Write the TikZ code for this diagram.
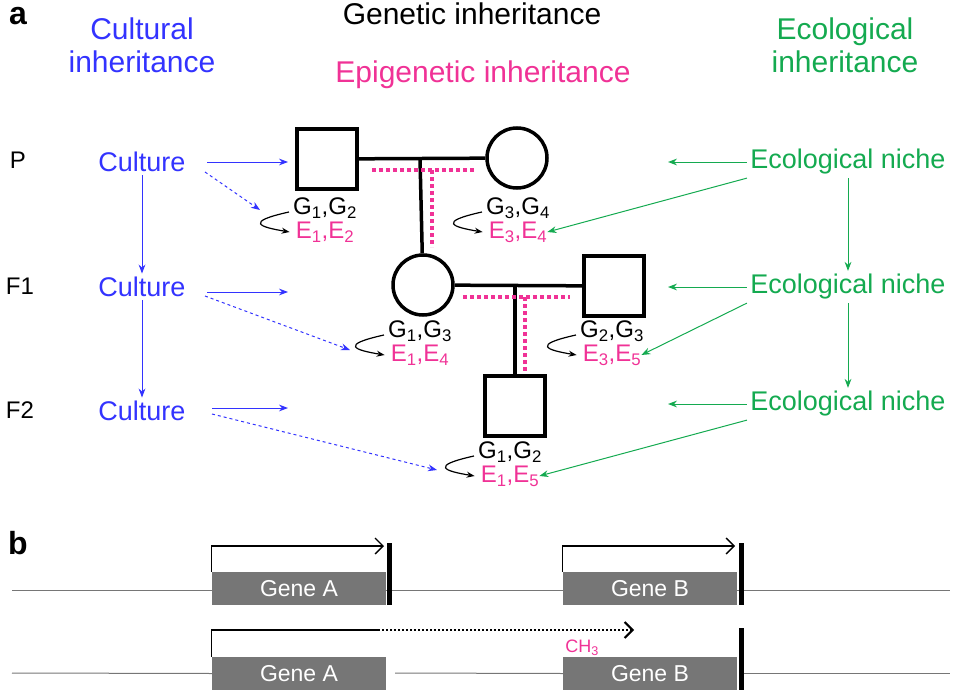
\documentclass[tikz,border=0pt]{standalone}
\usepackage{fontspec}
\setmainfont{Liberation Sans}
\usetikzlibrary{arrows.meta, positioning}
\definecolor{cultblue}{RGB}{51,51,255}
\definecolor{epipink}{RGB}{240,50,150}
\definecolor{ecogreen}{RGB}{20,170,80}
\definecolor{genegray}{RGB}{118,118,118}
\tikzset{
  big/.style={font=\fontsize{30}{33}\selectfont, align=center},
  lab/.style={font=\fontsize{27}{30}\selectfont},
  gen/.style={font=\fontsize{24}{26}\selectfont, inner sep=0pt},
  male/.style={draw, line width=3.5pt, minimum size=60pt, inner sep=0pt},
  female/.style={draw, circle, line width=3.5pt, minimum size=60pt, inner sep=0pt},
  mate/.style={line width=3.5pt},
  epi/.style={epipink, line width=4pt, dash pattern=on 4pt off 3pt},
  cult/.style={cultblue, line width=1pt, -{Stealth[length=9pt]}},
  eco/.style={ecogreen, line width=1pt, -{Stealth[length=9pt]}},
  self/.style={-{Stealth[length=8pt]}, line width=1.2pt},
  gene/.style={fill=genegray, text=white, minimum width=174pt, minimum height=33pt, inner sep=0pt, font=\fontsize{23}{25}\selectfont},
  stop/.style={line width=5pt},
  dna/.style={genegray, line width=1pt}
}
\newcommand{\gp}[2]{G\textsubscript{#1},G\textsubscript{#2}}
\newcommand{\ep}[2]{E\textsubscript{#1},E\textsubscript{#2}}
\begin{document}
\begin{tikzpicture}[x=1pt, y=-1pt]
\useasboundingbox (0,0) rectangle (961,693);
% headings
\node[font=\fontsize{32}{34}\selectfont\bfseries] (a) at (18,16) {a};
\node[font=\fontsize{32}{34}\selectfont\bfseries] (b) at (18,543) {b};
\node[big, cultblue] (cultH) at (142,45) {Cultural\\inheritance};
\node[big] (genH) at (472,14) {Genetic inheritance};
\node[big, epipink] (epiH) at (483,75) {Epigenetic inheritance};
\node[big, ecogreen] (ecoH) at (845,45) {Ecological\\inheritance};
% generations
\node[gen] (P) at (18,160) {P};
\node[gen] (F1) at (20,286) {F1};
\node[gen] (F2) at (20,410) {F2};
\node[lab, cultblue] (c0) at (142,162) {Culture};
\node[lab, cultblue] (c1) at (142,287) {Culture};
\node[lab, cultblue] (c2) at (142,411) {Culture};
\node[lab, ecogreen] (n0) at (848,162) {Ecological niche};
\node[lab, ecogreen] (n1) at (848,287) {Ecological niche};
\node[lab, ecogreen] (n2) at (848,404) {Ecological niche};
% pedigree
\node[male] (pm) at (327,159) {};
\node[female] (pf) at (517,158) {};
\node[female] (f1f) at (423,285) {};
\node[male] (f1m) at (614,286) {};
\node[male] (f2m) at (515,406) {};
\coordinate (m0) at (420,158);
\coordinate (m1) at (515,286);
\draw[mate] (pm) -- (pf);
\draw[mate] (m0) -- (f1f);
\draw[mate] (f1f) -- (f1m);
\draw[mate] (m1) -- (f2m);
\draw[epi] (372,170) -- (476,170) (432,170) -- (432,247);
\draw[epi] (463,297) -- (570,297) (525,297) -- (525,372);
% genotypes
\node[gen] (g0) at (325,208) {\gp{1}{2}};
\node[gen, epipink] (e0) at (325,232) {\ep{1}{2}};
\node[gen] (g1) at (518,208) {\gp{3}{4}};
\node[gen, epipink] (e1) at (518,232) {\ep{3}{4}};
\node[gen] (g2) at (420,331) {\gp{1}{3}};
\node[gen, epipink] (e2) at (420,355) {\ep{1}{4}};
\node[gen] (g3) at (612,331) {\gp{2}{3}};
\node[gen, epipink] (e3) at (612,355) {\ep{3}{5}};
\node[gen] (g4) at (510,452) {\gp{1}{2}};
\node[gen, epipink] (e4) at (510,476) {\ep{1}{5}};
\foreach \g/\e in {g0/e0, g1/e1, g2/e2, g3/e3, g4/e4}
  \draw[self] ([xshift=-4pt,yshift=-4pt]\g.west) .. controls +(-45,10) and +(-30,-5) .. ([xshift=-6pt]\e.west);
% cultural arrows
\coordinate (t0) at (288,162);
\coordinate (t1) at (288,292);
\coordinate (t2) at (288,408);
\coordinate (s0) at (207,162);
\coordinate (s1) at (207,292);
\coordinate (s2) at (212,408);
\draw[cult] (s0) -- (t0);
\draw[cult] (s1) -- (t1);
\draw[cult] (s2) -- (t2);
\draw[cult, dashed] (205,172) -- (260,210);
\draw[cult, dashed] (205,296) -- (350,350);
\draw[cult, dashed] (212,414) -- (437,470);
\draw[cult] (c0) -- (c1);
\draw[cult] (c1) -- (c2);
% ecological arrows
\draw[eco] (n0.west) -- (668,162);
\draw[eco] (n0.south west) -- (e1.east);
\draw[eco] (n1.west) -- (668,287);
\draw[eco] (n1.south west) -- (e3.east);
\draw[eco] (n2.west) -- (668,404);
\draw[eco] (n2.south west) -- (e4.east);
\draw[eco] (n0) -- (n1);
\draw[eco] (n1) -- (n2);
% part b, top strand
\draw[dna] (12,590) -- (950,590);
\node[gene] (ga) at (299,588.5) {Gene A};
\node[gene] (gb) at (650,588.5) {Gene B};
\draw[stop] (389,543) -- (389,605);
\draw[stop] (741,543) -- (741,605);
\draw[line width=1.3pt, -{Straight Barb[length=8pt]}] (ga.north west) |- (384,546);
\draw[line width=1.3pt, -{Straight Barb[length=8pt]}] (gb.north west) |- (735,546);
% part b, bottom strand
\node[gene] (ga2) at (299,673.5) {Gene A};
\node[gene] (gb2) at (650,673.5) {Gene B};
\draw[dna] (12,673) -- (ga2.west);
\draw[dna] (395,673) -- (gb2.west);
\draw[dna] (741,673) -- (950,673);
\draw[stop] (741,628) -- (741,690);
\draw[line width=1.3pt] (ga2.north west) |- (378,630);
\draw[dotted, line width=2pt, -{Straight Barb[length=8pt]}] (378,630) -- (634,630);
\node[gen, epipink, font=\fontsize{18}{20}\selectfont] (ch3) at (582,648) {CH\textsubscript{3}};
\end{tikzpicture}
\end{document}
